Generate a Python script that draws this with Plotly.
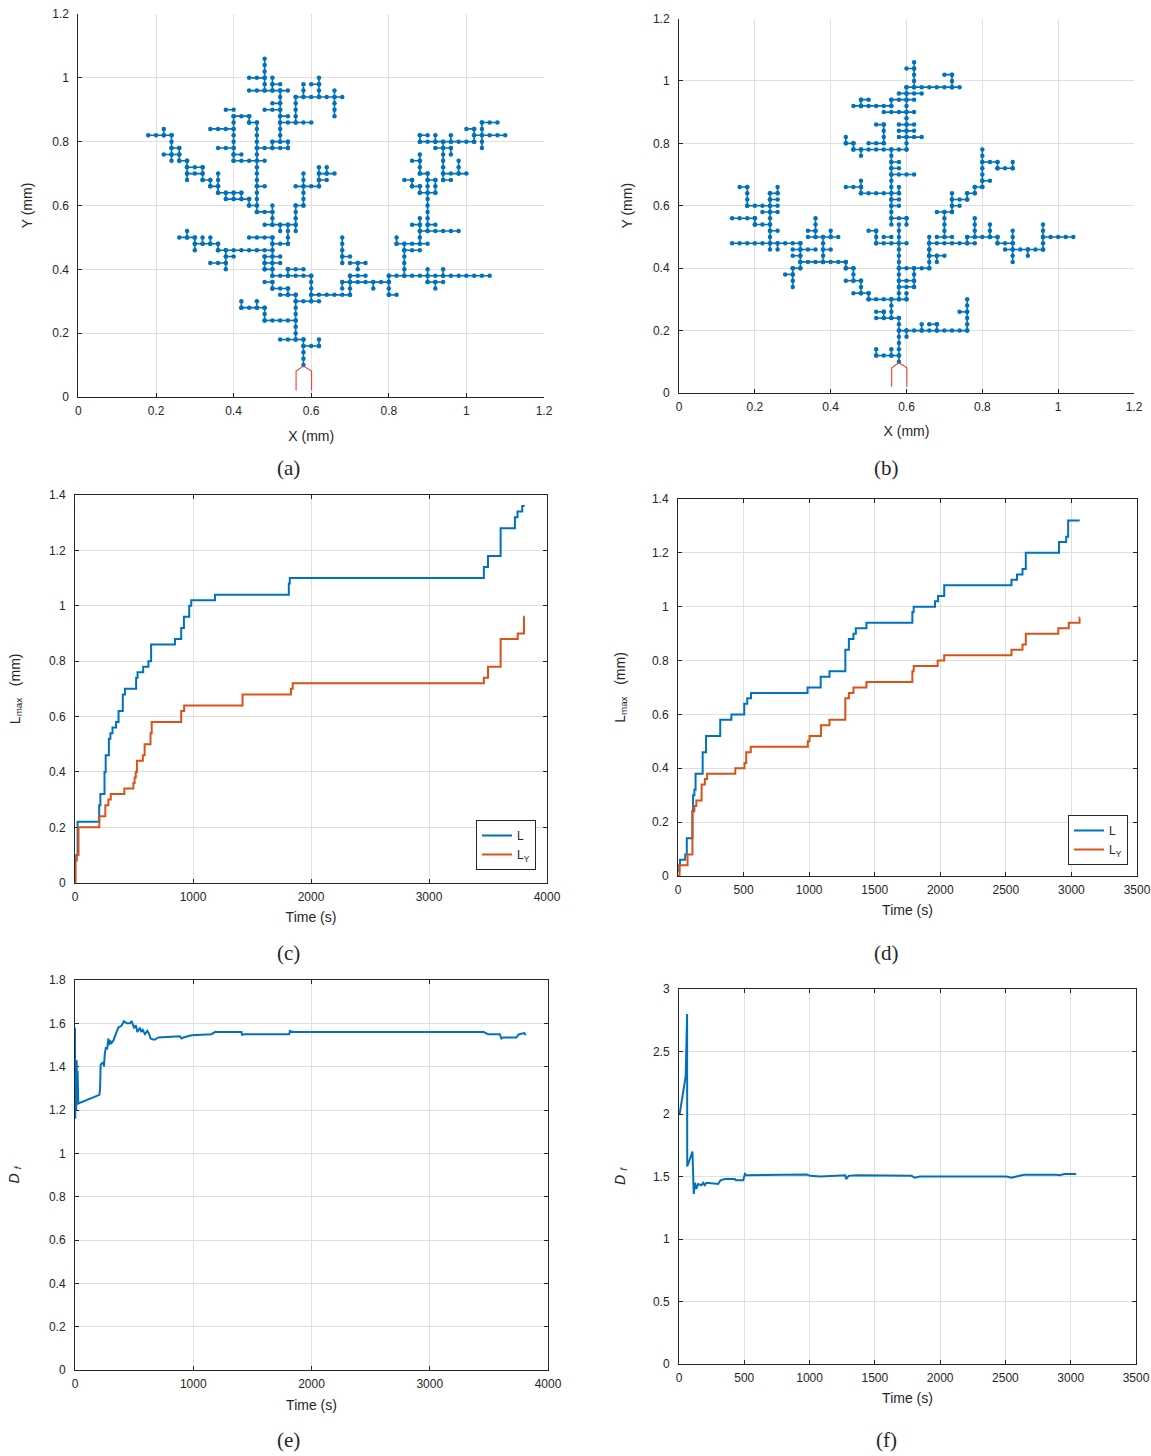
import plotly.graph_objects as go

W, H = 1151, 1456

# ---------------- data ----------------
# Tree (a): lattice segments, node units of 0.02 mm  ((i1, j1), (i2, j2))
tree_a_segments = [
    ((29, 5), (29, 9)), ((26, 9), (29, 9)), ((29, 8), (31, 8)), ((31, 8), (31, 9)),
    ((28, 9), (28, 16)), ((26, 16), (28, 16)), ((28, 15), (31, 15)), ((30, 15), (30, 19)),
    ((30, 16), (35, 16)), ((35, 16), (35, 19)), ((35, 19), (37, 19)), ((34, 18), (40, 18)),
    ((34, 17), (34, 18)), ((40, 16), (40, 19)), ((40, 16), (41, 16)), ((40, 19), (53, 19)),
    ((34, 21), (34, 25)), ((34, 22), (35, 22)), ((35, 21), (37, 21)), ((36, 20), (36, 21)),
    ((42, 19), (42, 24)), ((42, 23), (44, 23)), ((41, 24), (45, 24)), ((41, 24), (41, 25)),
    ((44, 24), (44, 28)), ((44, 26), (49, 26)), ((43, 27), (44, 27)), ((45, 27), (46, 27)),
    ((45, 26), (45, 35)), ((44, 32), (46, 32)), ((44, 32), (44, 33)), ((43, 33), (44, 33)),
    ((43, 33), (43, 34)), ((42, 34), (43, 34)), ((46, 32), (46, 34)), ((45, 34), (46, 34)),
    ((44, 35), (45, 35)), ((44, 35), (44, 38)), ((43, 37), (44, 37)),
    ((47, 34), (47, 40)), ((47, 34), (48, 34)), ((47, 35), (50, 35)), ((49, 35), (49, 37)),
    ((46, 39), (48, 39)), ((48, 38), (48, 39)),
    ((44, 40), (51, 40)), ((44, 40), (44, 41)), ((44, 41), (45, 41)), ((46, 40), (46, 41)),
    ((48, 40), (48, 41)), ((51, 40), (51, 42)), ((50, 42), (51, 42)), ((51, 41), (55, 41)),
    ((52, 39), (52, 43)), ((52, 43), (54, 43)),
    ((45, 18), (45, 20)), ((45, 18), (47, 18)), ((46, 17), (46, 18)), ((47, 19), (47, 20)),
    ((38, 17), (38, 18)),
    ((24, 12), (28, 12)), ((24, 12), (24, 14)), ((21, 14), (24, 14)), ((21, 14), (21, 15)),
    ((23, 14), (23, 15)),
    ((24, 18), (25, 18)), ((25, 17), (25, 18)), ((25, 17), (27, 17)), ((27, 16), (27, 17)),
    ((25, 19), (30, 19)), ((25, 19), (25, 25)), ((27, 19), (27, 20)), ((27, 20), (29, 20)),
    ((24, 20), (25, 20)), ((24, 20), (24, 22)), ((24, 21), (26, 21)), ((24, 22), (26, 22)),
    ((18, 23), (25, 23)), ((22, 25), (25, 25)), ((25, 24), (27, 24)), ((27, 24), (27, 27)),
    ((24, 27), (28, 27)), ((26, 26), (26, 27)), ((28, 26), (28, 30)),
    ((19, 20), (19, 23)), ((19, 22), (20, 22)), ((17, 21), (19, 21)),
    ((15, 23), (15, 25)), ((13, 25), (15, 25)), ((14, 25), (14, 26)), ((15, 24), (18, 24)),
    ((16, 24), (16, 25)), ((17, 24), (17, 25)), ((18, 23), (18, 24)),
    ((25, 27), (25, 30)), ((23, 29), (25, 29)),
    ((28, 30), (29, 30)), ((29, 30), (29, 35)), ((28, 33), (31, 33)), ((31, 33), (31, 36)),
    ((31, 35), (33, 35)), ((31, 34), (32, 34)), ((32, 35), (32, 36)),
    ((23, 29), (23, 43)), ((22, 30), (23, 30)), ((22, 30), (22, 31)), ((19, 31), (22, 31)),
    ((18, 32), (21, 32)), ((19, 31), (19, 32)), ((20, 31), (20, 32)), ((21, 31), (21, 32)),
    ((18, 32), (18, 35)), ((17, 33), (18, 33)), ((17, 33), (17, 34)), ((16, 34), (17, 34)),
    ((16, 34), (16, 36)), ((14, 36), (16, 36)), ((14, 35), (16, 35)), ((14, 34), (14, 37)),
    ((13, 37), (14, 37)), ((13, 37), (13, 39)), ((12, 39), (13, 39)), ((11, 38), (13, 38)),
    ((12, 37), (12, 41)), ((9, 41), (12, 41)), ((11, 41), (11, 42)),
    ((23, 33), (24, 33)),
    ((20, 37), (24, 37)), ((20, 37), (20, 44)), ((18, 39), (20, 39)), ((20, 38), (21, 38)),
    ((17, 42), (20, 42)), ((19, 45), (20, 45)), ((20, 44), (22, 44)), ((22, 43), (22, 44)),
    ((22, 43), (23, 43)),
    ((23, 39), (27, 39)), ((25, 39), (25, 40)), ((27, 39), (27, 40)), ((25, 40), (27, 40)),
    ((26, 40), (26, 48)), ((25, 46), (26, 46)), ((24, 45), (26, 45)), ((26, 44), (27, 44)),
    ((26, 43), (30, 43)), ((28, 43), (28, 47)), ((28, 47), (34, 47)), ((29, 47), (29, 49)),
    ((30, 49), (31, 49)), ((31, 47), (31, 50)), ((33, 44), (33, 48)),
    ((22, 48), (27, 48)), ((24, 48), (24, 53)), ((22, 50), (24, 50)), ((25, 48), (25, 50)),
    ((25, 49), (26, 49)),
]

# Tree (b)
tree_b_segments = [
    ((29, 5), (29, 12)), ((26, 6), (29, 6)), ((26, 6), (26, 7)), ((28, 6), (28, 7)),
    ((29, 10), (38, 10)), ((30, 9), (30, 10)), ((38, 10), (38, 15)), ((37, 13), (38, 13)),
    ((32, 10), (32, 11)), ((33, 11), (34, 11)), ((34, 10), (34, 11)),
    ((26, 12), (29, 12)), ((27, 12), (27, 13)), ((26, 13), (27, 13)), ((28, 12), (28, 15)),
    ((25, 15), (30, 15)), ((30, 15), (30, 16)), ((29, 15), (29, 27)),
    ((28, 27), (28, 39)), ((28, 28), (30, 28)), ((30, 27), (30, 28)), ((28, 30), (29, 30)),
    ((28, 31), (29, 31)), ((28, 35), (31, 35)), ((28, 36), (29, 36)), ((28, 37), (29, 37)),
    ((29, 17), (31, 17)), ((31, 17), (31, 20)), ((29, 18), (31, 18)), ((29, 20), (33, 20)),
    ((33, 20), (33, 25)),
    ((26, 24), (30, 24)), ((26, 24), (26, 26)), ((25, 26), (26, 26)), ((27, 25), (28, 25)),
    ((23, 16), (25, 16)), ((25, 15), (25, 16)), ((24, 16), (24, 18)), ((22, 18), (24, 18)),
    ((23, 18), (23, 20)), ((22, 20), (23, 20)), ((22, 20), (22, 21)),
    ((16, 21), (22, 21)), ((16, 20), (16, 24)), ((15, 20), (16, 20)), ((15, 17), (15, 20)),
    ((14, 19), (15, 19)), ((15, 22), (16, 22)),
    ((15, 23), (18, 23)), ((7, 24), (16, 24)), ((12, 23), (12, 32)), ((12, 32), (13, 32)),
    ((13, 32), (13, 33)), ((12, 31), (13, 31)), ((9, 30), (13, 30)), ((9, 30), (9, 33)),
    ((8, 33), (9, 33)), ((11, 29), (13, 29)), ((12, 26), (13, 26)), ((10, 27), (12, 27)),
    ((7, 28), (10, 28)), ((10, 27), (10, 28)), ((13, 23), (13, 24)),
    ((17, 25), (21, 25)), ((18, 25), (18, 28)), ((17, 26), (18, 26)), ((20, 25), (20, 26)),
    ((19, 21), (19, 25)), ((19, 23), (20, 23)),
    ((22, 33), (24, 33)), ((24, 32), (24, 34)), ((24, 32), (29, 32)), ((29, 32), (29, 33)),
    ((23, 39), (30, 39)), ((23, 39), (23, 40)), ((22, 40), (23, 40)), ((22, 40), (22, 41)),
    ((24, 38), (24, 39)), ((25, 40), (27, 40)), ((27, 40), (27, 43)), ((26, 43), (27, 43)),
    ((30, 39), (30, 49)), ((29, 41), (32, 41)), ((29, 42), (31, 42)), ((29, 43), (31, 43)),
    ((27, 45), (31, 45)), ((23, 46), (28, 46)), ((24, 46), (24, 47)), ((24, 47), (25, 47)),
    ((28, 46), (28, 47)), ((28, 47), (31, 47)), ((29, 48), (32, 48)),
    ((30, 49), (37, 49)), ((36, 49), (36, 51)), ((35, 51), (36, 51)),
    ((31, 49), (31, 53)), ((30, 52), (31, 52)),
    ((33, 24), (39, 24)), ((34, 25), (36, 25)), ((35, 25), (35, 29)), ((34, 29), (36, 29)),
    ((36, 29), (36, 32)), ((36, 30), (37, 30)), ((36, 31), (38, 31)), ((38, 31), (38, 32)),
    ((38, 32), (39, 32)), ((39, 32), (39, 33)), ((39, 33), (40, 33)), ((40, 33), (40, 39)),
    ((40, 34), (41, 34)), ((40, 37), (42, 37)), ((42, 36), (42, 37)), ((42, 36), (44, 36)),
    ((44, 36), (44, 37)),
    ((38, 25), (42, 25)), ((38, 24), (38, 25)), ((39, 25), (39, 28)), ((41, 25), (41, 27)),
    ((42, 24), (42, 25)), ((42, 24), (44, 24)), ((43, 23), (48, 23)), ((44, 21), (44, 26)),
    ((48, 23), (48, 27)), ((48, 25), (52, 25)), ((46, 22), (46, 23)),
    ((33, 22), (35, 22)), ((34, 21), (34, 22)), ((33, 22), (33, 23)),
]

# electrode tip outline (mm)
tip_x = [0.561, 0.561, 0.58, 0.601, 0.601]
tip_y = [0.02, 0.081, 0.097, 0.081, 0.02]

# (c) Lmax vs time, sample 1
c_L_t = [0, 10, 22, 205, 215, 250, 260, 287, 300, 318, 348, 369, 405, 423, 518, 530, 578, 622, 645,
         847, 900, 923, 968, 985, 1186, 1812, 1820, 3465, 3500, 3607, 3728, 3750, 3790, 3810]
c_L_v = [0.08, 0.10, 0.22, 0.28, 0.32, 0.40, 0.46, 0.52, 0.54, 0.56, 0.58, 0.62, 0.68, 0.70, 0.74,
         0.76, 0.78, 0.80, 0.86, 0.88, 0.92, 0.96, 1.00, 1.02, 1.04, 1.08, 1.10, 1.14, 1.18, 1.28,
         1.32, 1.34, 1.36, 1.36]
c_Y_t = [0, 5, 15, 30, 206, 257, 283, 303, 418, 495, 505, 515, 525, 575, 590, 640, 650, 900, 925,
         1420, 1830, 1845, 3465, 3500, 3607, 3752, 3805, 3810]
c_Y_v = [0.0, 0.08, 0.10, 0.20, 0.24, 0.28, 0.30, 0.32, 0.34, 0.36, 0.38, 0.40, 0.44, 0.46, 0.50,
         0.54, 0.58, 0.62, 0.64, 0.68, 0.70, 0.72, 0.74, 0.78, 0.88, 0.90, 0.96, 0.96]

# (d) Lmax vs time, sample 2
d_L_t = [0, 10, 15, 55, 67, 110, 115, 125, 134, 188, 214, 322, 407, 505, 528, 557, 988, 1088,
         1155, 1276, 1303, 1338, 1356, 1437, 1787, 1797, 1960, 1983, 2030, 2543, 2585, 2627, 2652,
         2905, 2960, 2975, 3063]
d_L_v = [0.02, 0.04, 0.06, 0.08, 0.14, 0.24, 0.30, 0.32, 0.38, 0.46, 0.52, 0.58, 0.60, 0.64, 0.66,
         0.68, 0.70, 0.74, 0.76, 0.84, 0.88, 0.90, 0.92, 0.94, 0.98, 1.00, 1.02, 1.04, 1.08, 1.10,
         1.12, 1.14, 1.20, 1.24, 1.26, 1.32, 1.32]
d_Y_t = [0, 12, 73, 110, 125, 140, 180, 205, 222, 437, 507, 520, 555, 990, 1003, 1090, 1155, 1276,
         1303, 1338, 1437, 1787, 1797, 1980, 2030, 2543, 2627, 2652, 2900, 2980, 3062, 3063]
d_Y_v = [0.0, 0.04, 0.08, 0.24, 0.26, 0.28, 0.34, 0.36, 0.38, 0.40, 0.42, 0.46, 0.48, 0.50, 0.52,
         0.56, 0.58, 0.66, 0.68, 0.70, 0.72, 0.76, 0.78, 0.80, 0.82, 0.84, 0.86, 0.90, 0.92, 0.94,
         0.96, 0.96]

# (e) fractal dimension, sample 1
e_t = [0, 2, 6, 10, 14, 18, 22, 28, 100, 206, 212, 217, 240, 245, 252, 262, 272, 282, 290, 296,
       310, 324, 345, 366, 394, 414, 437, 465, 479, 499, 515, 527, 549, 560, 572, 592, 611, 628,
       639, 660, 676, 704, 887, 901, 915, 986, 1155, 1183, 1408, 1412, 1420, 1811, 1817, 1845,
       3456, 3493, 3592, 3606, 3620, 3732, 3755, 3800, 3811]
e_D = [1.58, 1.16, 1.40, 1.20, 1.43, 1.24, 1.38, 1.23, 1.245, 1.27, 1.30, 1.41, 1.42, 1.40, 1.46,
       1.49, 1.48, 1.53, 1.50, 1.52, 1.51, 1.52, 1.55, 1.58, 1.59, 1.61, 1.60, 1.60, 1.61, 1.58,
       1.59, 1.56, 1.58, 1.56, 1.57, 1.55, 1.565, 1.55, 1.53, 1.525, 1.525, 1.535, 1.54, 1.53,
       1.535, 1.545, 1.55, 1.56, 1.56, 1.545, 1.55, 1.55, 1.565, 1.56, 1.56, 1.55, 1.55, 1.53,
       1.535, 1.535, 1.55, 1.555, 1.545]

# (f) fractal dimension, sample 2
f_t = [5, 51, 62, 63, 77, 103, 113, 123, 133, 146, 172, 185, 197, 210, 300, 318, 351, 428, 436,
       492, 505, 515, 979, 1005, 1082, 1236, 1274, 1280, 1300, 1360, 1423, 1436, 1781, 1806, 1845,
       2508, 2546, 2623, 2648, 2890, 2915, 2952, 3042]
f_D = [2.0, 2.30, 2.80, 1.58, 1.62, 1.70, 1.36, 1.45, 1.40, 1.44, 1.43, 1.45, 1.43, 1.45, 1.44,
       1.47, 1.48, 1.48, 1.47, 1.47, 1.52, 1.51, 1.515, 1.505, 1.50, 1.505, 1.51, 1.48, 1.505,
       1.51, 1.51, 1.505, 1.505, 1.49, 1.50, 1.50, 1.49, 1.51, 1.513, 1.513, 1.51, 1.52, 1.52]

BLUE = "#0072BD"
ORANGE = "#D95319"
TXT = "#262626"
GRID = "#e0e0e0"
FONT = "Liberation Sans, Arial, sans-serif"


def expand(segments, unit=0.02):
    xs, ys = [], []
    for (i1, j1), (i2, j2) in segments:
        n = max(abs(i2 - i1), abs(j2 - j1))
        di = (i2 > i1) - (i2 < i1)
        dj = (j2 > j1) - (j2 < j1)
        for k in range(n + 1):
            xs.append(round((i1 + di * k) * unit, 4))
            ys.append(round((j1 + dj * k) * unit, 4))
        xs.append(None)
        ys.append(None)
    return xs, ys


def dom_x(l, r):
    return [l / W, r / W]


def dom_y(top, bottom):
    return [1 - bottom / H, 1 - top / H]


def axis(domain, rng, dtick, mirror, anchor, standoff, title, title_standoff):
    return dict(domain=domain, range=rng, dtick=dtick, tick0=0, autorange=False,
                showgrid=True, gridcolor=GRID, gridwidth=1, zeroline=False,
                showline=True, linecolor=TXT, linewidth=1, ticks="inside", ticklen=4,
                tickcolor=TXT, mirror=("ticks" if mirror else False), anchor=anchor,
                ticklabelstandoff=standoff, automargin=False,
                title=dict(text=title, standoff=title_standoff,
                           font=dict(family=FONT, size=14, color=TXT)),
                tickfont=dict(family=FONT, size=12, color=TXT), layer="below traces")


fig = go.Figure()

# (a) tree
ax_, ay_ = expand(tree_a_segments)
fig.add_trace(go.Scatter(x=ax_, y=ay_, mode="lines+markers", xaxis="x", yaxis="y",
                         line=dict(color=BLUE, width=1.6), marker=dict(color=BLUE, size=4.5),
                         showlegend=False, connectgaps=False))
fig.add_trace(go.Scatter(x=tip_x, y=tip_y, mode="lines", xaxis="x", yaxis="y",
                         line=dict(color="#ee4035", width=1.1), showlegend=False))
# (b) tree
bx_, by_ = expand(tree_b_segments)
fig.add_trace(go.Scatter(x=bx_, y=by_, mode="lines+markers", xaxis="x2", yaxis="y2",
                         line=dict(color=BLUE, width=1.6), marker=dict(color=BLUE, size=4.5),
                         showlegend=False, connectgaps=False))
fig.add_trace(go.Scatter(x=tip_x, y=tip_y, mode="lines", xaxis="x2", yaxis="y2",
                         line=dict(color="#ee4035", width=1.1), showlegend=False))

# (c)
fig.add_trace(go.Scatter(x=c_L_t, y=c_L_v, mode="lines", line=dict(color=BLUE, width=2, shape="hv"),
                         xaxis="x3", yaxis="y3", name="L", legend="legend"))
fig.add_trace(go.Scatter(x=c_Y_t, y=c_Y_v, mode="lines", line=dict(color=ORANGE, width=2, shape="hv"),
                         xaxis="x3", yaxis="y3", name="L<sub>Y</sub>", legend="legend"))
# (d)
fig.add_trace(go.Scatter(x=d_L_t, y=d_L_v, mode="lines", line=dict(color=BLUE, width=2, shape="hv"),
                         xaxis="x4", yaxis="y4", name="L", legend="legend2"))
fig.add_trace(go.Scatter(x=d_Y_t, y=d_Y_v, mode="lines", line=dict(color=ORANGE, width=2, shape="hv"),
                         xaxis="x4", yaxis="y4", name="L<sub>Y</sub>", legend="legend2"))
# (e)
fig.add_trace(go.Scatter(x=e_t, y=e_D, mode="lines", line=dict(color=BLUE, width=2),
                         xaxis="x5", yaxis="y5", showlegend=False))
# (f)
fig.add_trace(go.Scatter(x=f_t, y=f_D, mode="lines", line=dict(color=BLUE, width=2),
                         xaxis="x6", yaxis="y6", showlegend=False))

legend_style = dict(bgcolor="white", bordercolor=TXT, borderwidth=1,
                    font=dict(family=FONT, size=12, color=TXT), xanchor="left", yanchor="top",
                    itemwidth=30, tracegroupgap=0)

LMAX = "L<sub>max</sub>   (mm)"
DF = "<i>D</i> <sub><i>f</i></sub>"

fig.update_layout(
    width=W, height=H, margin=dict(l=0, r=0, t=0, b=0),
    paper_bgcolor="white", plot_bgcolor="white",
    xaxis=axis(dom_x(78.4, 544), [0, 1.2], 0.2, False, "y", 3, "X (mm)", 13),
    yaxis=axis(dom_y(14, 397), [0, 1.2], 0.2, False, "x", 6, "Y (mm)", 16),
    xaxis2=axis(dom_x(679, 1134), [0, 1.2], 0.2, False, "y2", 3, "X (mm)", 12),
    yaxis2=axis(dom_y(18.5, 393), [0, 1.2], 0.2, False, "x2", 6, "Y (mm)", 17),
    xaxis3=axis(dom_x(75, 547), [0, 4000], 1000, True, "y3", 3, "Time (s)", 9),
    yaxis3=axis(dom_y(495, 882.7), [0, 1.4], 0.2, True, "x3", 6, LMAX, 25),
    xaxis4=axis(dom_x(678, 1137), [0, 3500], 500, True, "y4", 3, "Time (s)", 8),
    yaxis4=axis(dom_y(499, 876), [0, 1.4], 0.2, True, "x4", 6, LMAX, 23),
    xaxis5=axis(dom_x(75, 548), [0, 4000], 1000, True, "y5", 3, "Time (s)", 9),
    yaxis5=axis(dom_y(980, 1370), [0, 1.8], 0.2, True, "x5", 6, DF, 26),
    xaxis6=axis(dom_x(679, 1136), [0, 3500], 500, True, "y6", 3, "Time (s)", 8),
    yaxis6=axis(dom_y(989, 1364), [0, 3], 0.5, True, "x6", 6, DF, 24),
    legend=dict(x=476 / W, y=1 - 820 / H, **legend_style),
    legend2=dict(x=1068 / W, y=1 - 815 / H, **legend_style),
)

annotations = []
for t, px, py in [("(a)", 289, 468), ("(b)", 886, 468), ("(c)", 289, 953),
                  ("(d)", 886, 953), ("(e)", 289, 1440), ("(f)", 886, 1440)]:
    annotations.append(dict(text=t, x=px / W, y=1 - py / H, xref="paper", yref="paper",
                            showarrow=False, xanchor="center", yanchor="middle",
                            font=dict(family="Liberation Serif, DejaVu Serif, serif", size=21,
                                      color=TXT)))

fig.update_layout(annotations=annotations)
fig.write_html("out.html")
